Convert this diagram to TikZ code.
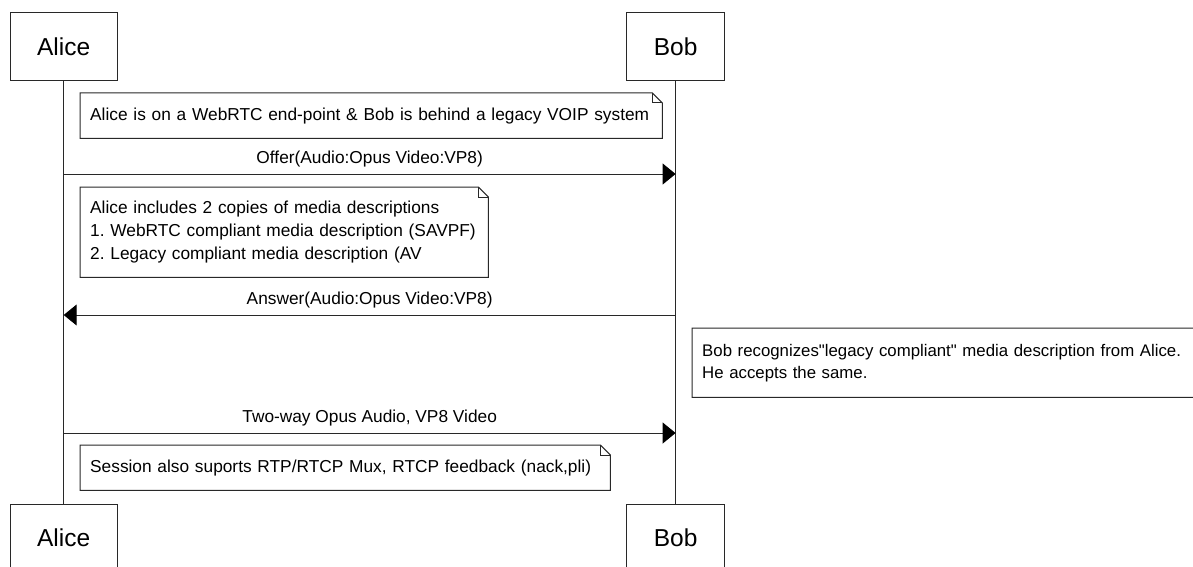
\documentclass[tikz,border=0pt]{standalone}
\usepackage{fontspec}
\setmainfont{Liberation Sans}[Ligatures=TeXOff]
\usetikzlibrary{positioning,calc,arrows.meta}
\definecolor{seqline}{RGB}{40,40,40}

\newcommand{\dogear}[1]{%
    \draw[noteline] (#1.south west) -- (#1.north west) -- ([xshift=-10pt]#1.north east)
        -- ([yshift=-10pt]#1.north east) -- (#1.south east) -- cycle;
    \draw[noteline] ([xshift=-10pt]#1.north east) -- ([xshift=-10pt,yshift=-10pt]#1.north east)
        -- ([yshift=-10pt]#1.north east);}

\begin{document}
\frenchspacing
\begin{tikzpicture}[%
    x=1pt,y=-1pt,
    actor/.style={draw=seqline,line width=1pt,minimum height=68pt,inner sep=0,
                  font=\fontsize{24.5}{28}\selectfont},
    noteline/.style={draw=seqline,line width=1pt},
    notebox/.style={anchor=north west,align=left,inner xsep=10pt,inner ysep=0,
                    font=\fontsize{17.3}{23}\selectfont},
    lifeline/.style={draw=seqline,line width=1pt},
    msg/.style={draw=seqline,line width=1pt,-{Triangle[length=13pt,width=21pt,color=black]}},
    msglabel/.style={midway,anchor=base,yshift=11pt,inner sep=0,
                     font=\fontsize{17.3}{20}\selectfont}
    ]
    \useasboundingbox (0,0) rectangle (1193,567);
    \clip (0,0) rectangle (1193,567);
    %%% Deelnemers
    \node[actor,minimum width=107pt] (aliceTop) at (63.7,47) {Alice};
    \node[actor,minimum width=98pt] (bobTop) at (675.6,47) {Bob};
    \node[actor,minimum width=107pt] (aliceBot) at (63.7,538) {Alice};
    \node[actor,minimum width=98pt] (bobBot) at (675.6,538) {Bob};
    \path[lifeline] (aliceTop) -- (aliceBot) (bobTop) -- (bobBot);
    %%% Notities
    \node[notebox,minimum width=582pt,minimum height=45pt,text width=562pt] (setup) at (80,93)
        {\mbox{Alice is on a WebRTC end-point \& Bob is behind a legacy VOIP system}};
    \node[notebox,minimum width=408pt,minimum height=90pt,text width=388pt] (copies) at (80,187)
        {\mbox{Alice includes 2 copies of media descriptions}\\
         \mbox{1. WebRTC compliant media description (SAVPF)}\\
         \mbox{2. Legacy compliant media description (AV}};
    \node[notebox,minimum width=520pt,minimum height=69pt,text width=500pt,
          font=\fontsize{16.8}{22}\selectfont] (recognize) at (692,328)
        {\mbox{Bob recognizes"legacy compliant" media description from Alice.}\\
         \mbox{He accepts the same.}};
    \node[notebox,minimum width=530pt,minimum height=45pt,text width=510pt] (session) at (80,445)
        {\mbox{Session also suports RTP/RTCP Mux, RTCP feedback (nack,pli)}};
    \dogear{setup}
    \dogear{copies}
    \dogear{recognize}
    \dogear{session}
    %%% Berichten
    \coordinate (offerA) at (aliceTop |- 0,174);
    \coordinate (offerB) at (bobTop |- 0,174);
    \coordinate (answerA) at (aliceTop |- 0,315);
    \coordinate (answerB) at (bobTop |- 0,315);
    \coordinate (mediaA) at (aliceTop |- 0,433);
    \coordinate (mediaB) at (bobTop |- 0,433);
    \draw[msg] (offerA) -- (offerB) node[msglabel] {Offer(Audio:Opus Video:VP8)};
    \draw[msg] (answerB) -- (answerA) node[msglabel] {Answer(Audio:Opus Video:VP8)};
    \draw[msg] (mediaA) -- (mediaB) node[msglabel] {Two-way Opus Audio, VP8 Video};
\end{tikzpicture}
\end{document}
